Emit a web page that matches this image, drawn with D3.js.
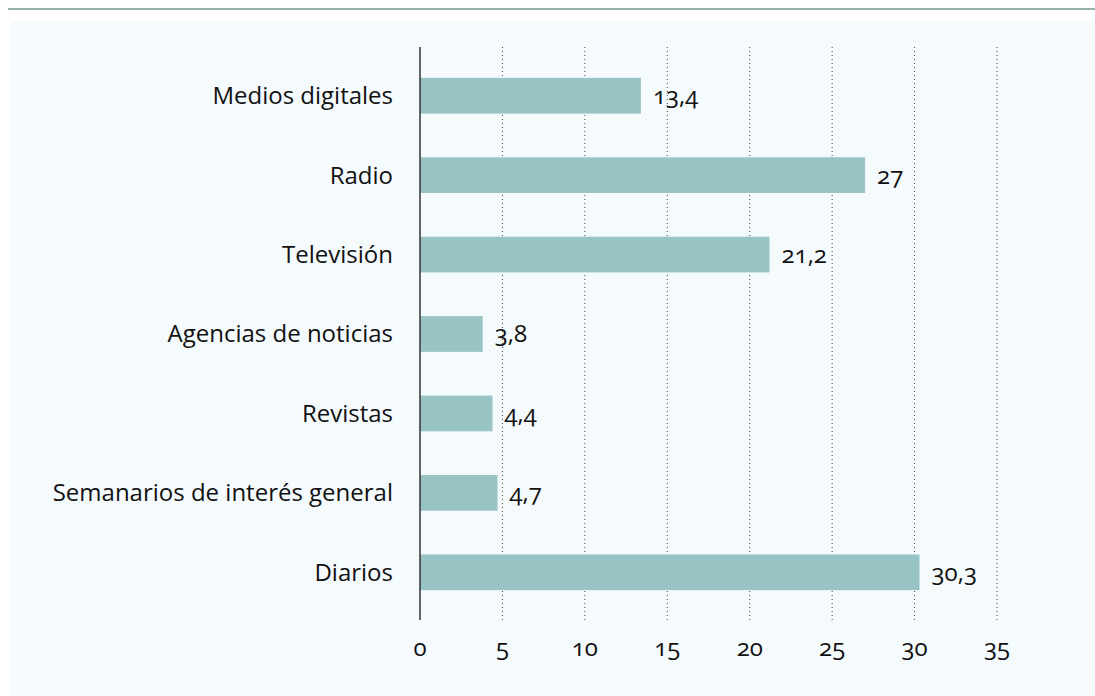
<!DOCTYPE html>
<html>
<head>
<meta charset="utf-8">
<script src="https://cdn.jsdelivr.net/npm/d3@7"></script>
<style>
  body { margin: 0; background: #ffffff; }
  svg text { font-family: "Open Sans", "Lato", sans-serif; fill: #111; font-variant-numeric: oldstyle-nums; }
</style>
</head>
<body>
<div id="plot"></div>
<script>
// categories top to bottom
var categories = ["Medios digitales", "Radio", "Televisión", "Agencias de noticias",
                  "Revistas", "Semanarios de interés general", "Diarios"];
var values = [13.4, 27, 21.2, 3.8, 4.4, 4.7, 30.3];
var valueLabels = ["13,4", "27", "21,2", "3,8", "4,4", "4,7", "30,3"];
var ticks = [0, 5, 10, 15, 20, 25, 30, 35];

var width = 1095, height = 696;

var svg = d3.select("#plot").append("svg")
    .attr("width", width)
    .attr("height", height);

// top rule and panel
svg.append("line")
    .attr("x1", 8).attr("x2", width)
    .attr("y1", 9).attr("y2", 9)
    .attr("stroke", "#2f6259").attr("stroke-width", 1.2);

svg.append("rect")
    .attr("x", 10).attr("y", 21)
    .attr("width", width - 10).attr("height", height - 21)
    .attr("fill", "#f5fafd");

var x = d3.scaleLinear().domain([0, 35]).range([420, 997]);
var y = d3.scaleBand().domain(categories).range([56, 612])
    .paddingInner(0.55).paddingOuter(0.275);

var plotTop = 47, plotBottom = 620;

// dotted gridlines
svg.append("g").selectAll("line")
    .data(ticks.slice(1))
    .enter().append("line")
    .attr("x1", function(d) { return x(d); })
    .attr("x2", function(d) { return x(d); })
    .attr("y1", plotTop).attr("y2", plotBottom)
    .attr("stroke", "#444")
    .attr("stroke-width", 1)
    .attr("stroke-dasharray", "1,3");

// bars
svg.append("g").selectAll("rect")
    .data(values)
    .enter().append("rect")
    .attr("x", x(0))
    .attr("y", function(d, i) { return y(categories[i]); })
    .attr("width", function(d) { return x(d) - x(0); })
    .attr("height", y.bandwidth())
    .attr("fill", "#99c4c6");

// value labels
svg.append("g").selectAll("text")
    .data(values)
    .enter().append("text")
    .attr("x", function(d) { return x(d) + 12; })
    .attr("y", function(d, i) { return y(categories[i]) + y.bandwidth() / 2; })
    .attr("dy", "0.35em")
    .style("font-size", "24px")
    .text(function(d, i) { return valueLabels[i]; });

// category labels
svg.append("g").selectAll("text")
    .data(categories)
    .enter().append("text")
    .attr("x", 393)
    .attr("y", function(d) { return y(d) + y.bandwidth() / 2; })
    .attr("dy", "0.35em")
    .attr("text-anchor", "end")
    .style("font-size", "24px")
    .text(function(d) { return d; });

// value axis line
svg.append("line")
    .attr("x1", x(0)).attr("x2", x(0))
    .attr("y1", plotTop).attr("y2", plotBottom)
    .attr("stroke", "#333").attr("stroke-width", 1.5);

// x tick labels
svg.append("g").selectAll("text")
    .data(ticks)
    .enter().append("text")
    .attr("x", function(d) { return x(d); })
    .attr("y", 648)
    .attr("dy", "0.35em")
    .attr("text-anchor", "middle")
    .style("font-size", "24px")
    .text(function(d) { return d; });
</script>
</body>
</html>
